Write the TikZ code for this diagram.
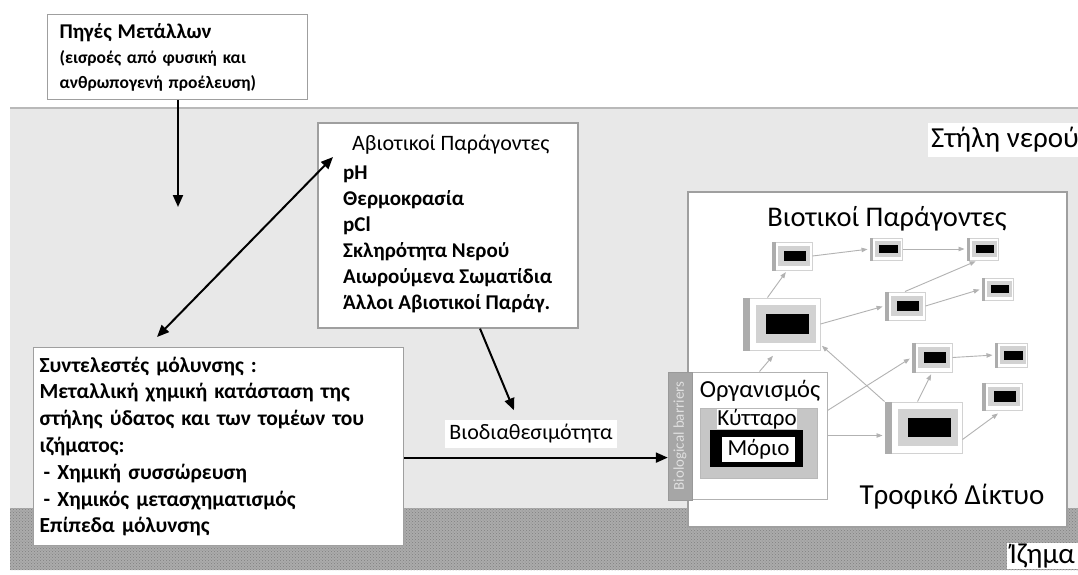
\documentclass[tikz,border=0pt]{standalone}
\usepackage{fontspec}
\setmainfont{Carlito}
\usetikzlibrary{arrows.meta,patterns,calc}
\begin{document}
\begin{tikzpicture}[x=1pt,y=-1pt,
  box/.style={draw=gray!75, line width=1.2pt, fill=white},
  mainarrow/.style={line width=2pt, -{Triangle[length=12pt,width=10pt]}},
  dblarrow/.style={line width=2pt, {Triangle[length=12pt,width=10pt]}-{Triangle[length=12pt,width=10pt]}},
  fwa/.style={draw=gray!60, line width=0.9pt, -{Triangle[length=6pt,width=4.5pt]}, shorten >=2pt},
  fwn/.style 2 args={draw=gray!35, line width=1pt, fill=white, inner sep=0pt, minimum width=#1, minimum height=#2}
]
\useasboundingbox (0,0) rectangle (1078,574);
\fill[white] (0,0) rectangle (1078,574);
% water column and sediment
\fill[gray!18] (10,108) rectangle (1078,508);
\draw[gray!55, line width=1.5pt] (10,108) -- (1078,108);
\fill[gray!66] (10,508) rectangle (1078,570);
\fill[pattern=crosshatch dots, pattern color=gray!100] (10,508) rectangle (1078,570);

% source box
\node[box, anchor=north west, minimum width=260pt, minimum height=85pt, text width=236pt, inner xsep=12pt, align=left, font={\bfseries\fontsize{17.5}{25}\selectfont}] (src) at (47,14)
 {{\fontsize{21}{25}\selectfont Πηγές Μετάλλων}\\ (εισροές από φυσική και\\ ανθρωπογενή προέλευση)};
\coordinate (srcEnd) at (178,207);
\draw[mainarrow] (src.south -| srcEnd) -- (srcEnd);

% abiotic box
\node[box, minimum width=260pt, minimum height=205pt] (abio) at (448,225.5) {};
\node[anchor=west, inner sep=0pt, align=left, font={\fontsize{21}{26}\selectfont\bfseries}] (abioT) at (343,223.5)
 {\hspace*{9pt}{\mdseries\fontsize{22}{26}\selectfont Αβιοτικοί Παράγοντες}\\[3pt] pH\\ Θερμοκρασία\\ pCl\\ Σκληρότητα Νερού\\ Αιωρούμενα Σωματίδια\\ Άλλοι Αβιοτικοί Παράγ.};

% pollution box
\node[box, anchor=north west, minimum width=370pt, minimum height=198pt, text width=358pt, inner xsep=6pt, align=left, font=\fontsize{21.5}{26.8}\selectfont\bfseries] (poll) at (33,347)
 {Συντελεστές μόλυνσης :\\ Μεταλλική χημική κατάσταση της\\ στήλης ύδατος και των τομέων του\\ ιζήματος:\\ \hspace*{4pt}- Χημική συσσώρευση\\ \hspace*{4pt}- Χημικός μετασχηματισμός\\ Επίπεδα μόλυνσης};

\coordinate (dblLow) at (157,337);
\coordinate (dblHigh) at (333,157);
\draw[dblarrow] (dblLow) -- (dblHigh);

% bioavailability
\node[fill=white, inner xsep=4pt, inner ysep=4pt, font=\fontsize{22}{24}\selectfont] (bio) at (531,434) {Βιοδιαθεσιμότητα};
\draw[mainarrow] ([xshift=32pt]abio.south) -- ([xshift=-17pt,yshift=10pt]bio.north);

% water column label
\node[fill=white, anchor=east, inner xsep=3pt, inner ysep=4pt, font=\fontsize{29}{32}\selectfont] (wc) at (1082,140) {Στήλη νερού};

% food web box
\node[box, minimum width=379pt, minimum height=335pt] (web) at (877.5,359.5) {};
\node[font=\fontsize{28.5}{32}\selectfont] (bt) at (887,219) {Βιοτικοί Παράγοντες};
\node[font=\fontsize{29}{32}\selectfont] (tw) at (952,497) {Τροφικό Δίκτυο};

% organism group
\node[draw=gray!60, line width=1pt, fill=white, minimum width=135pt, minimum height=127pt] (org) at (759.5,435.5) {};
\node[fill=gray!70, draw=gray!80, minimum width=24pt, minimum height=128pt, inner sep=0pt] (bar) at (680,436) {};
\node[rotate=90, text=gray!25, font=\fontsize{15}{16}\selectfont] (barT) at (bar.center) {Biological barriers};
\node[font=\fontsize{24.5}{26}\selectfont] (orgT) at (760,391) {Οργανισμός};
\node[fill=gray!45, draw=gray!55, minimum width=117pt, minimum height=70pt, inner sep=0pt] (cell) at (758.5,443) {};
\node[fill=white, inner sep=0.5pt, font=\fontsize{23}{24}\selectfont] (cellT) at (757,419) {Κύτταρο};
\node[fill=black, minimum width=93pt, minimum height=37pt, inner sep=0pt] (mol) at (756.5,448.5) {};
\node[fill=white, minimum width=73pt, minimum height=25pt, inner sep=0pt, font=\fontsize{23}{24}\selectfont] (molT) at (758.5,449.5) {Μόριο};

\draw[mainarrow] ([yshift=-11pt]poll.east) -- ([yshift=-11pt]poll.east -| bar.west);

% food web nodes
\node[fwn={40pt}{28pt}] (A) at (792,256) {};
\node[fwn={32pt}{22pt}] (B) at (886,249) {};
\node[fwn={31pt}{22pt}] (C) at (982.5,249) {};
\node[fwn={31pt}{22pt}] (D) at (997.5,289) {};
\node[fwn={40pt}{28pt}] (E) at (905,306) {};
\node[fwn={77pt}{52pt}] (F) at (781.5,324) {};
\node[fwn={40pt}{29pt}] (G) at (932,357.5) {};
\node[fwn={32pt}{24pt}] (H) at (1011,355) {};
\node[fwn={40pt}{27pt}] (I) at (1002,396.5) {};
\node[fwn={77pt}{51pt}] (J) at (923.5,427.5) {};
\foreach \nd in {A,B,C,D,E,F,G,H,I,J} {
  \fill[gray!65] let \p1=(\nd.south west), \p2=(\nd.north east) in
     (\x1,\y1) rectangle ({\x1+0.1*(\x2-\x1)},\y2);
  \fill[gray!35] let \p1=(\nd.south west), \p2=(\nd.north east) in
     ({\x1+0.17*(\x2-\x1)},{\y1+0.15*(\y2-\y1)}) rectangle ({\x2-0.06*(\x2-\x1)},{\y2-0.15*(\y2-\y1)});
  \fill[black] let \p1=(\nd.south west), \p2=(\nd.north east) in
     ({\x1+0.3*(\x2-\x1)},{\y1+0.32*(\y2-\y1)}) rectangle ({\x2-0.15*(\x2-\x1)},{\y2-0.32*(\y2-\y1)});
}
% food web arrows
\draw[fwa, shorten >=7pt] (org.north) -- ([xshift=-4pt]F.south);
\draw[fwa] ([xshift=-14pt]F.north) -- ([xshift=-5pt]A.south);
\draw[fwa] (A.east) -- (B.west);
\draw[fwa] (B.east) -- (C.west);
\draw[fwa] (F.east) -- (E.west);
\draw[fwa] (E.north) -- ([xshift=-5pt]C.south);
\draw[fwa] (E.east) -- (D.west);
\draw[fwa] (J.north west) -- ([yshift=6pt]F.south east);
\draw[fwa] ([yshift=25pt]org.east) -- (G.west);
\draw[fwa] (org.east) -- (org.east -| J.west);
\draw[fwa] ([xshift=-6pt]J.north) -- (G.south);
\draw[fwa] (G.east) -- (H.west);
\draw[fwa, shorten >=5pt] ([yshift=-12pt]J.east) -- (I.south);

% sediment label
\node[fill=white, anchor=east, inner xsep=3pt, inner ysep=0.5pt, font=\fontsize{29}{30}\selectfont] (sed) at (1078,556) {Ίζημα};
\end{tikzpicture}
\end{document}
